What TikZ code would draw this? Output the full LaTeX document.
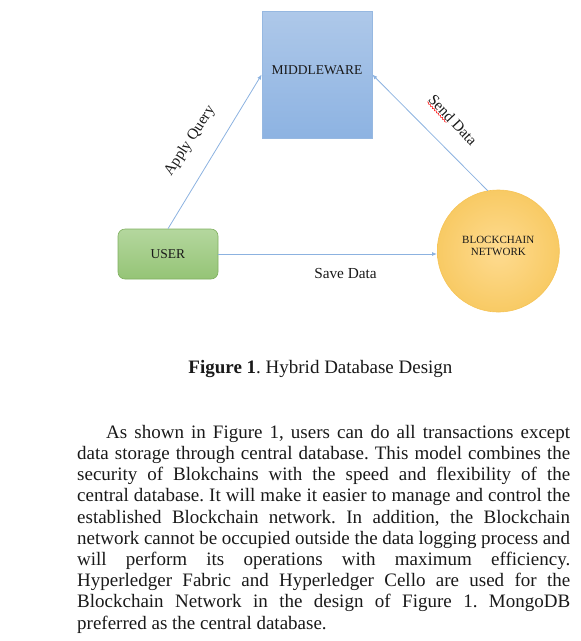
\documentclass[tikz,border=0pt]{standalone}
\usepackage{fontspec}
\setmainfont{Liberation Serif}
\usetikzlibrary{arrows.meta,decorations.pathmorphing,calc}
\definecolor{arrowblue}{RGB}{140,178,224}
\definecolor{mwtop}{RGB}{174,200,233}
\definecolor{mwbot}{RGB}{141,179,226}
\definecolor{mwline}{RGB}{150,184,225}
\definecolor{ustop}{RGB}{180,215,158}
\definecolor{usbot}{RGB}{149,196,118}
\definecolor{usline}{RGB}{128,176,96}
\definecolor{bcin}{RGB}{254,219,144}
\definecolor{bcout}{RGB}{248,202,100}
\definecolor{bcline}{RGB}{246,196,86}
\definecolor{inktext}{RGB}{25,25,25}
\begin{document}
\begin{tikzpicture}[x=1pt,y=-1pt,
  arr/.style={draw=arrowblue, line width=0.8pt, -{Latex[length=5pt,width=4pt]}},
  mwbox/.style={draw=mwline, line width=0.6pt, top color=mwtop, bottom color=mwbot,
    minimum width=110pt, minimum height=127pt, inner sep=0pt, text depth=8pt,
    font=\fontsize{13.5}{15}\selectfont, text=inktext},
  userbox/.style={draw=usline, line width=0.6pt, rounded corners=7pt, top color=ustop, bottom color=usbot,
    minimum width=100pt, minimum height=50pt, inner sep=0pt,
    font=\fontsize{13.5}{15}\selectfont, text=inktext},
  bcnode/.style={circle, draw=bcline, line width=0.6pt, inner color=bcin, outer color=bcout,
    minimum size=122pt, inner sep=0pt},
  bctext/.style={align=center, inner sep=0pt, font=\fontsize{11}{12.7}\selectfont, text=inktext},
  lbl/.style={inner sep=1pt, font=\fontsize{15.3}{17}\selectfont, text=inktext},
]
\useasboundingbox (0,0) rectangle (581,641);

\node[mwbox] (mw) at (317,74.5) {MIDDLEWARE};
\node[userbox] (user) at (168,254) {USER};
\node[bcnode] (bc) at (498.3,251) {};
\node[bctext] (bct) at (498.3,246) {BLOCKCHAIN\\NETWORK};

\draw[arr] (user.north) -- (mw.west);
\draw[arr] (bc.100) -- (mw.east);
\draw[arr] (user.east) -- (user.east -| bc.west);

\node[lbl, rotate=57] (aq) at (190,141) {Apply Query};
\node[lbl, rotate=-47] (sd) at (453,120) {Send Data};
\node[lbl] (sv) at (345.5,274) {Save Data};
\draw[red, line width=0.5pt, decorate, decoration={snake, amplitude=0.7pt, segment length=3pt}]
  ($(sd.south west)!0.03!(sd.south east)$) -- ($(sd.south west)!0.46!(sd.south east)$);

\node[anchor=base, inner sep=0pt, font=\fontsize{19}{21.2}\selectfont, text=inktext] (cap) at (320.5,373)
  {\frenchspacing\textbf{Figure 1}. Hybrid Database Design};

\node[anchor=north west, inner sep=0pt, text width=493pt, align=justify,
  font=\fontsize{19}{21.2}\selectfont, text=inktext] (body) at (77,425)
  {\frenchspacing\tolerance=10000\hspace*{29pt}As shown in Figure 1, users can do all transactions except\linebreak
  data storage through central database. This model combines the\linebreak
  security of Blokchains with the speed and flexibility of the\linebreak
  central database. It will make it easier to manage and control the\linebreak
  established Blockchain network. In addition, the Blockchain\linebreak
  network cannot be occupied outside the data logging process and\linebreak
  will perform its operations with maximum efficiency.\linebreak
  Hyperledger Fabric and Hyperledger Cello are used for the\linebreak
  Blockchain Network in the design of Figure 1. MongoDB\linebreak
  preferred as the central database.};
\end{tikzpicture}
\end{document}
